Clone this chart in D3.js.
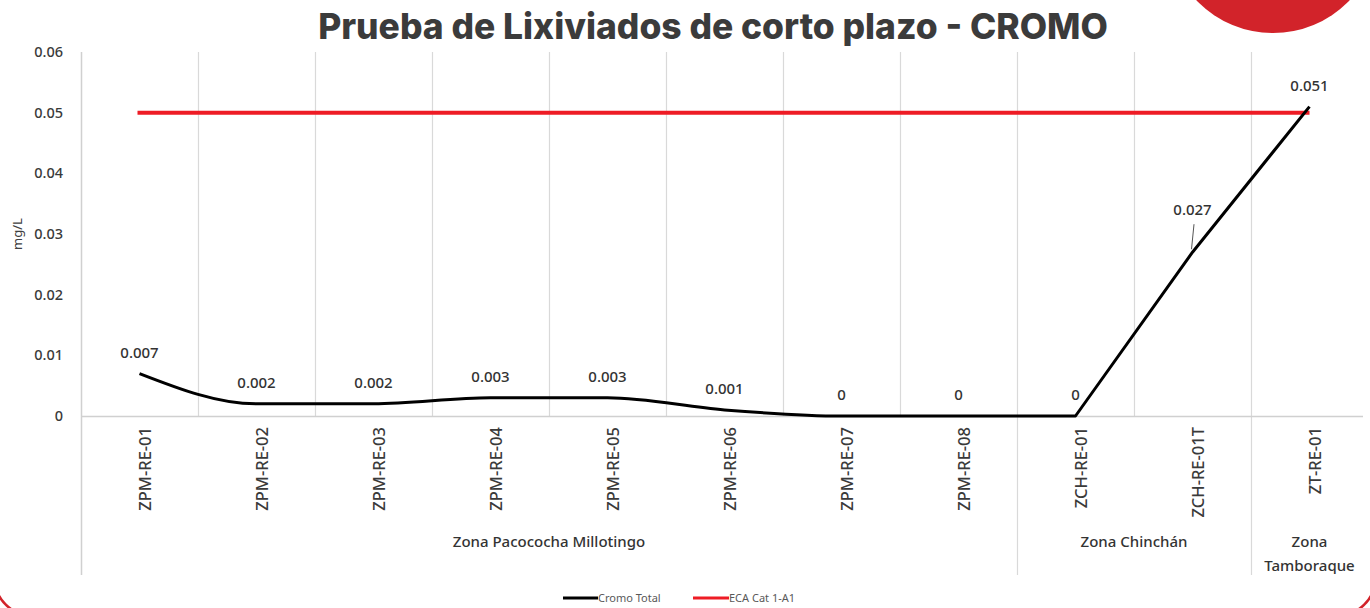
<!DOCTYPE html>
<html><head><meta charset="utf-8">
<script src="https://cdn.jsdelivr.net/npm/d3@7"></script>
<style>html,body{margin:0;padding:0;background:#fff;overflow:hidden}</style>
</head><body>
<svg id="c" width="1370" height="608"></svg>
<script>
const categories = ["ZPM-RE-01","ZPM-RE-02","ZPM-RE-03","ZPM-RE-04","ZPM-RE-05","ZPM-RE-06","ZPM-RE-07","ZPM-RE-08","ZCH-RE-01","ZCH-RE-01T","ZT-RE-01"];
const cromoTotal = [0.007,0.002,0.002,0.003,0.003,0.001,0,0,0,0.027,0.051];
const valueLabels = ["0.007","0.002","0.002","0.003","0.003","0.001","0","0","0","0.027","0.051"];
const ecaLimit = 0.05;
const yTicks = [0,0.01,0.02,0.03,0.04,0.05,0.06];
const yTickLabels = ["0","0.01","0.02","0.03","0.04","0.05","0.06"];
const zones = [
  {name:["Zona Pacococha Millotingo"], from:0, to:7},
  {name:["Zona Chinchán"], from:8, to:9},
  {name:["Zona","Tamboraque"], from:10, to:10}
];
const title = "Prueba de Lixiviados de corto plazo - CROMO";
const yTitle = "mg/L";
const legendNames = ["Cromo Total","ECA Cat 1-A1"];

const svg = d3.select("#c");
const F = "'Noto Sans', 'Open Sans', sans-serif";

// decorative frame and circle
svg.append("circle").attr("cx",1273).attr("cy",-73).attr("r",106).attr("fill","#d2232a");
svg.append("rect").attr("x",-5).attr("y",-40).attr("width",1380).attr("height",655).attr("rx",36)
  .attr("fill","none").attr("stroke","#d2232a").attr("stroke-width",2.5);

const x = d3.scaleBand().domain(categories).range([81,1368]).padding(0);
const y = d3.scaleLinear().domain([0,0.06]).range([416,52]);
const cx = d => x(d)+x.bandwidth()/2;

const grid = svg.append("g");
categories.forEach((c,i)=>{
  if(i===0) return;
  const zoneStart = zones.some(z=>z.from===i);
  grid.append("line").attr("x1",x(c)+0.5).attr("x2",x(c)+0.5)
    .attr("y1",y(0.06)).attr("y2",zoneStart?575:416)
    .attr("stroke","#d9d9d9").attr("stroke-width",1.2);
});
grid.append("line").attr("x1",81.5).attr("x2",81.5).attr("y1",y(0.06)).attr("y2",575)
  .attr("stroke","#d0d0d0").attr("stroke-width",1.5);
grid.append("line").attr("x1",81).attr("x2",1363).attr("y1",y(0)+0.5).attr("y2",y(0)+0.5)
  .attr("stroke","#d0d0d0").attr("stroke-width",1.5);

const yAxis = d3.axisLeft(y).tickValues(yTicks).tickSize(0).tickPadding(0)
  .tickFormat((d,i)=>yTickLabels[i]);
const ya = svg.append("g").attr("transform","translate(63,0)").call(yAxis);
ya.select(".domain").remove();
ya.selectAll("text").attr("font-family",F).attr("font-size",14.5).attr("fill","#3a3a3a").attr("font-weight",500);

svg.append("text").attr("transform","translate(22,234) rotate(-90)").attr("text-anchor","middle")
  .attr("font-family",F).attr("font-size",13).attr("fill","#404040").text(yTitle);

const xAxis = d3.axisBottom(x).tickSize(0).tickPadding(0);
const xa = svg.append("g").attr("transform",`translate(0,${y(0)})`).call(xAxis);
xa.select(".domain").remove();
xa.selectAll("text").attr("font-family",F).attr("font-size",16.5).attr("fill","#3a3a3a").attr("font-weight",500)
  .attr("text-anchor","end").attr("dy",null).attr("y",0)
  .attr("transform","translate(5,11) rotate(-90)").attr("dominant-baseline","central");

zones.forEach(z=>{
  const xm = (x(categories[z.from]) + x(categories[z.to])+x.bandwidth())/2;
  const t = svg.append("text").attr("text-anchor","middle").attr("font-family",F)
    .attr("font-size",15).attr("fill","#333").attr("font-weight",500);
  z.name.forEach((n,k)=>{
    t.append("tspan").attr("x",xm).attr("y",547+k*24).text(n);
  });
});

svg.append("line").attr("x1",cx(categories[0])-2).attr("x2",cx(categories[categories.length-1]))
  .attr("y1",y(ecaLimit)).attr("y2",y(ecaLimit)).attr("stroke","#ee1c25").attr("stroke-width",4);

// Cromo line: smoothed through the low values, straight on the final rise
const pts = cromoTotal.map((v,i)=>({i,v}));
const smooth = d3.line().x(d=>cx(categories[d.i])).y(d=>y(d.v)).curve(d3.curveMonotoneX);
const straight = d3.line().x(d=>cx(categories[d.i])).y(d=>y(d.v));
const dPath = smooth(pts.slice(0,9)) + straight(pts.slice(8)).replace(/^M/,"L");
svg.append("path").attr("d",dPath).attr("fill","none")
  .attr("stroke","#000").attr("stroke-width",3).attr("stroke-linejoin","round");

cromoTotal.forEach((v,i)=>{
  const px = cx(categories[i]), py = y(v);
  const off = i===9 ? 37 : 16;
  svg.append("text").attr("x",px).attr("y",py-off).attr("text-anchor","middle")
    .attr("font-family",F).attr("font-size",15).attr("font-weight",500).attr("fill","#333").text(valueLabels[i]);
  if(i===9){
    svg.append("line").attr("x1",px+1.5).attr("x2",px-1).attr("y1",py-28).attr("y2",py-3)
      .attr("stroke","#555").attr("stroke-width",1);
  }
});

const tt = svg.append("text").attr("x",713).attr("y",39).attr("text-anchor","middle")
  .attr("font-family","Inter, 'Noto Sans', sans-serif").attr("font-weight",800)
  .attr("font-size",32).attr("fill","#3b3b3b").text(title);
const tw = tt.node().getComputedTextLength();
tt.attr("font-size",32*790/tw);

const lg = svg.append("g").attr("font-family",F).attr("font-size",11).attr("fill","#595959");
lg.append("line").attr("x1",563).attr("x2",598).attr("y1",598).attr("y2",598).attr("stroke","#000").attr("stroke-width",3);
lg.append("text").attr("x",598).attr("y",602).text(legendNames[0]);
lg.append("line").attr("x1",693).attr("x2",729).attr("y1",598).attr("y2",598).attr("stroke","#ee1c25").attr("stroke-width",3);
lg.append("text").attr("x",729).attr("y",602).text(legendNames[1]);
</script>
</body></html>
